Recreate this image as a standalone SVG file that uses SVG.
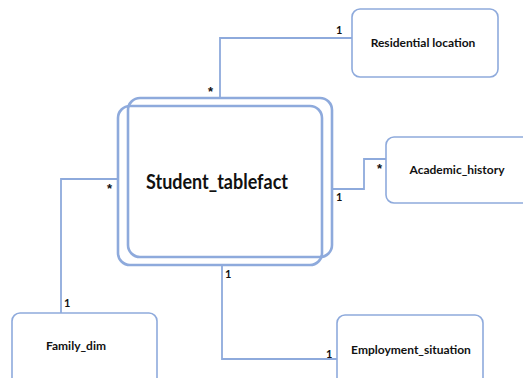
<svg xmlns="http://www.w3.org/2000/svg" width="523" height="378" viewBox="0 0 523 378">
  <style>
    .box { fill: #ffffff; stroke: #8eaadc; stroke-width: 1.6; }
    .fact { fill: none; stroke: #8eaadc; stroke-width: 2.6; }
    .link { fill: none; stroke: #8eaadc; stroke-width: 1.8; }
    .name { font-family: Lato, "Liberation Sans", sans-serif; font-weight: bold; font-size: 12px; fill: #111111; text-anchor: middle; }
    .title { font-family: Lato, "Liberation Sans", sans-serif; font-weight: bold; font-size: 20px; fill: #111111; text-anchor: middle; }
    .mult { font-family: Lato, "Liberation Sans", sans-serif; font-weight: bold; font-size: 11px; fill: #111111; }
    .star { font-family: "Liberation Sans", sans-serif; font-weight: bold; font-size: 13px; fill: #111111; }
  </style>
  <rect width="523" height="378" fill="#ffffff"/>

  <g id="connectors">
    <polyline class="link" points="220,98 220,38 352,38"/>
    <polyline class="link" points="332,189 364,189 364,159 386,159"/>
    <polyline class="link" points="118,179 61,179 61,313"/>
    <polyline class="link" points="222,265 222,359 337,359"/>
  </g>

  <g id="student_tablefact">
    <rect class="fact" x="128" y="98" width="204" height="159" rx="12"/>
    <rect class="fact" x="118" y="106" width="204" height="159" rx="12"/>
    <text class="title" x="217" y="189" textLength="142" lengthAdjust="spacingAndGlyphs">Student_tablefact</text>
  </g>

  <g id="residential_location">
    <rect class="box" x="352" y="9" width="146" height="68" rx="8"/>
    <text class="name" x="423" y="47">Residential location</text>
  </g>

  <g id="academic_history">
    <rect class="box" x="386" y="137" width="145" height="66" rx="8"/>
    <text class="name" x="457" y="174">Academic_history</text>
  </g>

  <g id="family_dim">
    <rect class="box" x="12" y="313" width="145" height="75" rx="8"/>
    <text class="name" x="76" y="350">Family_dim</text>
  </g>

  <g id="employment_situation">
    <rect class="box" x="337" y="315" width="146" height="75" rx="8"/>
    <text class="name" x="411" y="354">Employment_situation</text>
  </g>

  <g id="multiplicities">
    <text class="mult" x="336" y="34">1</text>
    <text class="star" x="208" y="96">*</text>
    <text class="star" x="377" y="173">*</text>
    <text class="mult" x="336" y="201">1</text>
    <text class="star" x="107" y="193">*</text>
    <text class="mult" x="64" y="307">1</text>
    <text class="mult" x="225" y="278">1</text>
    <text class="mult" x="326" y="358">1</text>
  </g>
</svg>
